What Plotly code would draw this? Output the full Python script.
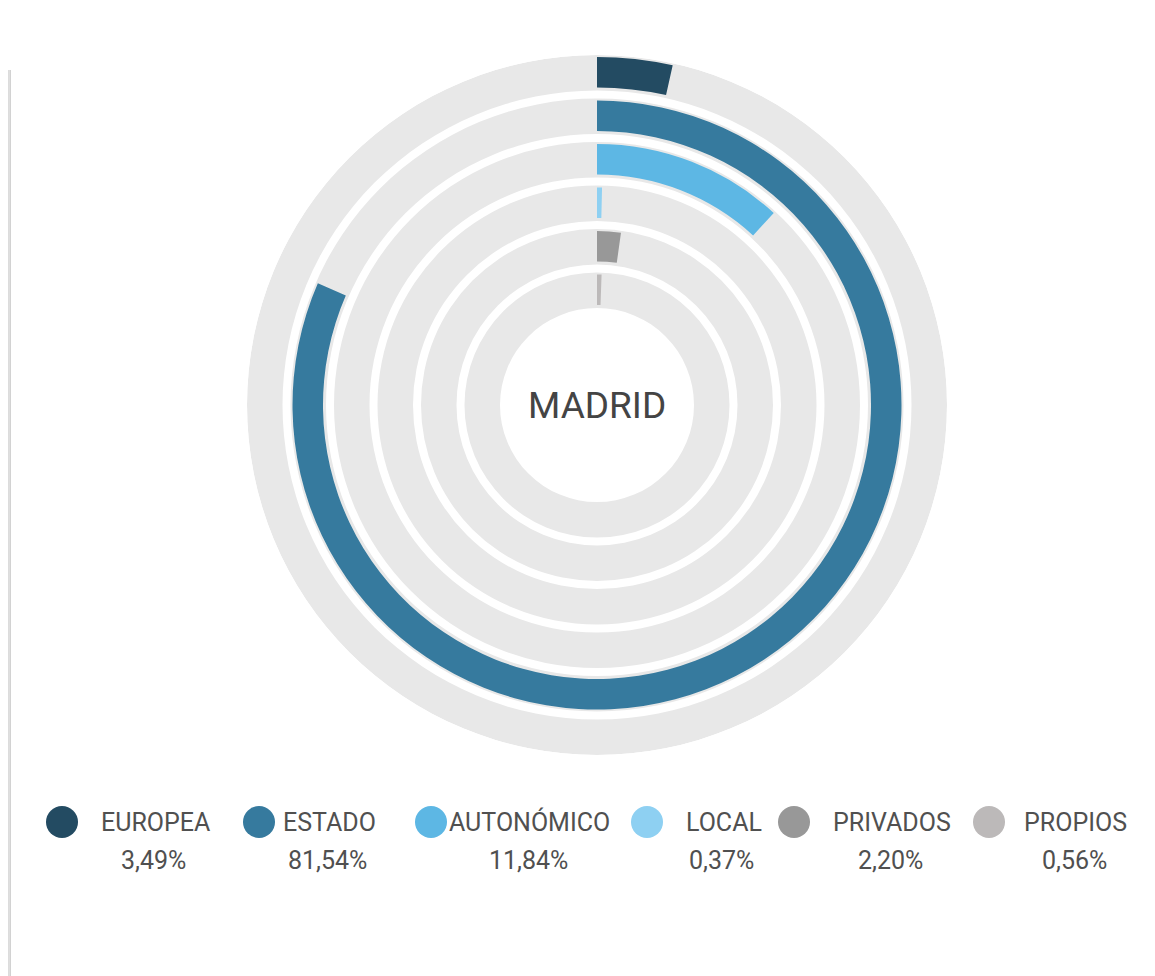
import plotly.graph_objects as go

# ---- data ----
categories = ["EUROPEA", "ESTADO", "AUTONÓMICO", "LOCAL", "PRIVADOS", "PROPIOS"]
values = [3.49, 81.54, 11.84, 0.37, 2.20, 0.56]
value_labels = ["3,49%", "81,54%", "11,84%", "0,37%", "2,20%", "0,56%"]
colors = ["#234b62", "#367a9e", "#5db7e4", "#8ed0f2", "#989898", "#bcb9b9"]
center_label = "MADRID"

# page body has an 8px margin; work in screen pixels and convert
OX, OY = 8, 8
W, H = 1155 - OX, 976 - OY
CX, CY, R = 597, 405, 350
PITCH, TRACK = 43.5, 35.5


def px(x):
    return (x - OX) / W


def py(y):
    return 1 - (y - OY) / H


fig = go.Figure()

# background tracks
for i, cat in enumerate(categories):
    outer = R - PITCH * i
    fig.add_trace(go.Barpolar(
        r=[TRACK], base=[outer - TRACK], theta=[180], width=[360],
        marker=dict(color="#e8e8e8", line=dict(width=0)),
        hoverinfo="skip", showlegend=False))

# value bars
for i, (cat, v, c) in enumerate(zip(categories, values, colors)):
    outer = R - PITCH * i
    ang = v * 3.6
    fig.add_trace(go.Barpolar(
        r=[TRACK - 5], base=[outer - TRACK + 3], theta=[ang / 2], width=[ang],
        marker=dict(color=c, line=dict(width=0)),
        name=cat, showlegend=False))

fig.update_layout(
    width=W, height=H,
    margin=dict(l=0, r=0, t=0, b=0),
    paper_bgcolor="white",
    polar=dict(
        domain=dict(x=[px(CX - R), px(CX + R)], y=[py(CY + R), py(CY - R)]),
        bgcolor="white",
        bargap=0,
        radialaxis=dict(range=[0, R], visible=False, showgrid=False),
        angularaxis=dict(visible=False, rotation=90, direction="clockwise", showgrid=False),
    ),
    font=dict(family="Roboto, Arial, sans-serif"),
)

annotations = [dict(x=px(CX), y=py(CY), xref="paper", yref="paper", text=center_label,
                    showarrow=False, font=dict(size=37, color="#444444"), xanchor="center", yanchor="middle")]
shapes = []

# legend layout (screen pixel positions)
dot_x = [62, 259, 431, 647, 794, 989]
label_x = [99, 281, 447, 684, 831, 1022]
label_w = [109, 92, 163, 74, 119, 104]
LEG_Y, PCT_Y, DOT_R = 822, 860, 16
for i, cat in enumerate(categories):
    shapes.append(dict(type="circle", xref="paper", yref="paper",
                       x0=px(dot_x[i] - DOT_R), x1=px(dot_x[i] + DOT_R),
                       y0=py(LEG_Y + DOT_R), y1=py(LEG_Y - DOT_R),
                       fillcolor=colors[i], line=dict(width=0)))
    annotations.append(dict(x=px(label_x[i]), y=py(LEG_Y), xref="paper", yref="paper",
                            text=cat, showarrow=False, xanchor="left", yanchor="middle",
                            font=dict(size=25, color="#505050")))
    annotations.append(dict(x=px(label_x[i] + label_w[i] / 2), y=py(PCT_Y), xref="paper", yref="paper",
                            text=value_labels[i], showarrow=False, xanchor="center", yanchor="middle",
                            font=dict(size=25, color="#505050")))

# left card shadow (only the part inside the figure area)
for x0, x1, col in [(8, 9.5, "#dcdcdc"), (9.5, 11, "#d2d2d2")]:
    shapes.append(dict(type="rect", xref="paper", yref="paper", x0=px(x0), x1=px(x1),
                       y0=0, y1=py(70), fillcolor=col, line=dict(width=0), layer="below"))

fig.update_layout(annotations=annotations, shapes=shapes)
fig.write_html("out.html")
